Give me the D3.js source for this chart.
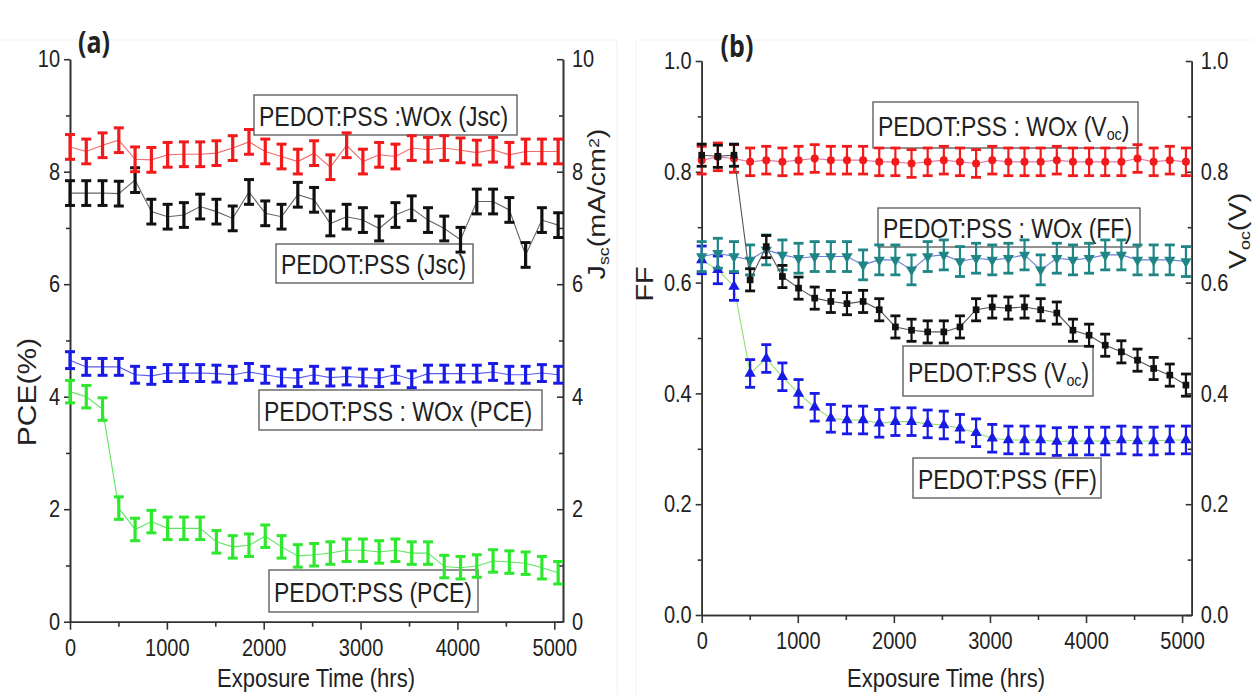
<!DOCTYPE html>
<html>
<head>
<meta charset="utf-8">
<script src="https://cdn.jsdelivr.net/npm/d3@7"></script>
<style>
  html, body { margin: 0; padding: 0; background: #fff; }
  svg { display: block; }
</style>
</head>
<body>
<svg id="chart" width="1253" height="695"></svg>
<script>
// Exposure time of each weekly measurement (hrs)
const hours = [0, 168, 336, 504, 672, 840, 1008, 1176, 1344, 1512, 1680, 1848, 2016, 2184, 2352,
               2520, 2688, 2856, 3024, 3192, 3360, 3528, 3696, 3864, 4032, 4200, 4368, 4536, 4704, 4872, 5040];

// (a) short-circuit current density (mA/cm2) and PCE (%)
const jscWOx = [8.44, 8.36, 8.47, 8.56, 8.22, 8.21, 8.30, 8.31, 8.31, 8.33, 8.42, 8.53, 8.36, 8.27, 8.18,
                8.33, 8.08, 8.47, 8.18, 8.30, 8.27, 8.42, 8.39, 8.42, 8.38, 8.34, 8.39, 8.30, 8.36, 8.36, 8.36];
const jscPss = [7.62, 7.62, 7.62, 7.61, 7.85, 7.29, 7.20, 7.23, 7.38, 7.29, 7.17, 7.64, 7.26, 7.20, 7.59,
                7.50, 7.08, 7.20, 7.14, 6.99, 7.23, 7.35, 7.14, 6.99, 6.79, 7.47, 7.47, 7.32, 6.52, 7.14, 7.05];
const pceWOx = [4.65, 4.53, 4.53, 4.53, 4.39, 4.37, 4.42, 4.42, 4.42, 4.41, 4.39, 4.44, 4.39, 4.34, 4.33,
                4.39, 4.34, 4.36, 4.34, 4.33, 4.39, 4.31, 4.41, 4.41, 4.41, 4.41, 4.44, 4.39, 4.39, 4.42, 4.39];
const pcePss = [4.09, 4.00, 3.78, 2.02, 1.64, 1.78, 1.66, 1.66, 1.66, 1.42, 1.33, 1.36, 1.52, 1.33, 1.17,
                1.19, 1.22, 1.27, 1.27, 1.24, 1.27, 1.22, 1.22, 0.98, 0.96, 0.99, 1.08, 1.06, 1.04, 0.96, 0.87];

// (b) open-circuit voltage (V) and fill factor
const vocWOx = [0.821, 0.827, 0.824, 0.818, 0.821, 0.818, 0.821, 0.824, 0.821, 0.821, 0.821, 0.818, 0.818, 0.815, 0.818,
                0.821, 0.818, 0.815, 0.821, 0.818, 0.818, 0.818, 0.821, 0.818, 0.818, 0.818, 0.818, 0.824, 0.818, 0.821, 0.818];
const vocPss = [0.830, 0.828, 0.830, 0.605, 0.665, 0.611, 0.590, 0.572, 0.566, 0.562, 0.566, 0.551, 0.520, 0.514, 0.511,
                0.511, 0.520, 0.551, 0.556, 0.554, 0.556, 0.551, 0.545, 0.514, 0.505, 0.487, 0.475, 0.460, 0.445, 0.433, 0.415];
const ffWOx  = [0.647, 0.653, 0.647, 0.641, 0.659, 0.650, 0.644, 0.647, 0.647, 0.647, 0.632, 0.641, 0.641, 0.623, 0.647,
                0.650, 0.638, 0.644, 0.641, 0.644, 0.650, 0.623, 0.644, 0.641, 0.644, 0.650, 0.650, 0.641, 0.641, 0.641, 0.638];
const ffPss  = [0.641, 0.623, 0.593, 0.436, 0.463, 0.430, 0.400, 0.375, 0.355, 0.352, 0.352, 0.346, 0.349, 0.349, 0.345,
                0.343, 0.337, 0.329, 0.319, 0.316, 0.316, 0.316, 0.313, 0.314, 0.314, 0.314, 0.316, 0.314, 0.314, 0.316, 0.316];

// Half-height of the error bars, one per series
const errJscWOx = 0.22, errJscPss = 0.22, errPceWOx = 0.15, errPcePss = 0.20;
const errVocWOx = 0.025, errVocPss = 0.02, errFfWOx = 0.027, errFfPss = 0.025;

// Tick values
const xMajor = [0, 1000, 2000, 3000, 4000, 5000];
const xMinor = [500, 1500, 2500, 3500, 4500];
const yMajorA = [0, 2, 4, 6, 8, 10];
const yMinorA = [1, 3, 5, 7, 9];
const yMajorB = [0, 0.2, 0.4, 0.6, 0.8, 1.0];
const yMinorB = [0.1, 0.3, 0.5, 0.7, 0.9];

const svg = d3.select("#chart");
const FONT = "'Liberation Sans', Arial, Helvetica, sans-serif";
const STRETCH = 1.2;      // glyphs in this figure are drawn tall
const AXIS_COLOR = "#333";
const TEXT_COLOR = "#222";

const panelA = {
  x: d3.scaleLinear().domain([0, 5090]).range([70, 563]),
  y: d3.scaleLinear().domain([0, 10]).range([621.7, 59.2])
};
const panelB = {
  x: d3.scaleLinear().domain([0, 5100]).range([701.7, 1191.7]),
  y: d3.scaleLinear().domain([0, 1]).range([615, 61])
};

// Text placed at (x, y) with the tall glyph stretch; parts = [{t, shift}] for sub/superscripts
function tallText(parent, x, y, parts, o) {
  const g = parent.append("g")
    .attr("transform", `translate(${x},${y}) scale(1,${STRETCH})` + (o.rotate ? ` rotate(${o.rotate})` : ""));
  const t = g.append("text")
    .attr("font-family", o.family || FONT)
    .attr("font-size", o.size)
    .attr("font-weight", o.weight || "normal")
    .attr("text-anchor", o.anchor || "middle")
    .attr("fill", TEXT_COLOR)
    .attr("dy", o.dy || "0.35em");
  parts.forEach(p => {
    const s = t.append("tspan").text(p.t);
    if (p.shift === "sub") s.attr("font-size", o.size * 0.62).attr("baseline-shift", "-28%");
    if (p.shift === "super") s.attr("font-size", o.size * 0.62).attr("baseline-shift", "42%");
  });
  return t;
}

function styleAxis(g, fontSize) {
  g.selectAll("path, line").attr("stroke", AXIS_COLOR).attr("stroke-width", 1.6);
  g.selectAll(".tick text").each(function () {
    const t = d3.select(this);
    const x = +t.attr("x") || 0, y = +t.attr("y") || 0;
    t.attr("x", 0).attr("y", 0)
      .attr("transform", `translate(${x},${y}) scale(1,${STRETCH})`)
      .attr("font-family", FONT).attr("font-size", fontSize).attr("fill", TEXT_COLOR);
  });
}

function drawAxes(p, yMajor, yMinor, fmt) {
  const [x0, x1] = p.x.range();
  const y0 = p.y.range()[0];
  const g = svg.append("g");
  // bottom
  styleAxis(g.append("g").attr("transform", `translate(0,${y0})`)
    .call(d3.axisBottom(p.x).tickValues(xMajor).tickSize(8).tickSizeOuter(0).tickPadding(9).tickFormat(d3.format("d"))), 20);
  styleAxis(g.append("g").attr("transform", `translate(0,${y0})`)
    .call(d3.axisBottom(p.x).tickValues(xMinor).tickSize(5).tickSizeOuter(0).tickFormat("")), 20);
  // left
  styleAxis(g.append("g").attr("transform", `translate(${x0},0)`)
    .call(d3.axisLeft(p.y).tickValues(yMajor).tickSize(6).tickSizeOuter(0).tickPadding(4).tickFormat(fmt)), 20);
  styleAxis(g.append("g").attr("transform", `translate(${x0},0)`)
    .call(d3.axisLeft(p.y).tickValues(yMinor).tickSize(4).tickSizeOuter(0).tickFormat("")), 20);
  // right (ticks point into the plot)
  styleAxis(g.append("g").attr("transform", `translate(${x1},0)`)
    .call(d3.axisRight(p.y).tickValues(yMajor).tickSizeInner(-6).tickSizeOuter(0).tickPadding(9).tickFormat(fmt)), 20);
  styleAxis(g.append("g").attr("transform", `translate(${x1},0)`)
    .call(d3.axisRight(p.y).tickValues(yMinor).tickSizeInner(-4).tickSizeOuter(0).tickFormat("")), 20);
}

function drawBox(x0, y0, x1, y1, parts, size) {
  svg.append("rect").attr("x", x0).attr("y", y0).attr("width", x1 - x0).attr("height", y1 - y0)
    .attr("fill", "#fff").attr("stroke", "#555").attr("stroke-width", 1.3);
  tallText(svg, x0 + 5, (y0 + y1) / 2 + 1, parts, { size: size, anchor: "start" });
}

function drawSeries(p, values, err, st) {
  const g = svg.append("g");
  const pts = hours.map((h, i) => [h, values[i]]);
  g.append("path").datum(pts)
    .attr("fill", "none").attr("stroke", st.line).attr("stroke-width", st.lineWidth || 1.1)
    .attr("d", d3.line().x(d => p.x(d[0])).y(d => p.y(d[1])));
  const bars = g.selectAll("g.bar").data(pts).join("g")
    .attr("class", "bar")
    .attr("transform", d => `translate(${p.x(d[0])},0)`);
  bars.append("line")
    .attr("x1", 0).attr("x2", 0)
    .attr("y1", d => p.y(d[1] - err)).attr("y2", d => p.y(d[1] + err))
    .attr("stroke", st.color).attr("stroke-width", st.stem);
  [-1, 1].forEach(s => {
    bars.append("line")
      .attr("x1", -st.cap / 2).attr("x2", st.cap / 2)
      .attr("y1", d => p.y(d[1] + s * err)).attr("y2", d => p.y(d[1] + s * err))
      .attr("stroke", st.color).attr("stroke-width", st.capWidth);
  });
  if (st.symbol) {
    bars.append("path")
      .attr("transform", d => `translate(0,${p.y(d[1])})` + (st.flip ? " rotate(180)" : ""))
      .attr("d", d3.symbol().type(st.symbol).size(st.symbolSize))
      .attr("fill", st.color);
  }
}

// faint edges of the two figure tiles
svg.append("path").attr("d", "M0,40H617V695").attr("fill", "none").attr("stroke", "#f1f1f1").attr("stroke-width", 1);
svg.append("path").attr("d", "M1253,40H636V695").attr("fill", "none").attr("stroke", "#f1f1f1").attr("stroke-width", 1);

drawAxes(panelA, yMajorA, yMinorA, d3.format("d"));
drawAxes(panelB, yMajorB, yMinorB, d3.format(".1f"));

// annotation boxes
const BOX_FONT = 23;
drawBox(254, 95, 517, 135, [{ t: "PEDOT:PSS :WOx (Jsc)" }], BOX_FONT);
drawBox(276, 244, 473, 283, [{ t: "PEDOT:PSS (Jsc)" }], BOX_FONT);
drawBox(259, 390, 542, 430, [{ t: "PEDOT:PSS : WOx (PCE)" }], BOX_FONT);
drawBox(269, 570, 478, 612, [{ t: "PEDOT:PSS (PCE)" }], BOX_FONT);
drawBox(873, 102, 1138, 148, [{ t: "PEDOT:PSS : WOx (V" }, { t: "oc", shift: "sub" }, { t: ")" }], BOX_FONT);
drawBox(878, 208, 1140, 247, [{ t: "PEDOT:PSS : WOx (FF)" }], BOX_FONT);
drawBox(903, 346, 1093, 396, [{ t: "PEDOT:PSS (V" }, { t: "oc", shift: "sub" }, { t: ")" }], BOX_FONT);
drawBox(913, 458, 1101, 498, [{ t: "PEDOT:PSS (FF)" }], BOX_FONT);

// (a) series
const barA = { stem: 3.2, cap: 10, capWidth: 3 };
drawSeries(panelA, jscPss, errJscPss, { ...barA, color: "#111", line: "#666" });
drawSeries(panelA, jscWOx, errJscWOx, { ...barA, color: "#f21a1a", line: "#f06a6a" });
drawSeries(panelA, pcePss, errPcePss, { ...barA, color: "#2ee82e", line: "#5fe65f" });
drawSeries(panelA, pceWOx, errPceWOx, { ...barA, color: "#1a1ae6", line: "#5a5af0" });

// (b) series
const barB = { stem: 2.2, cap: 10, capWidth: 2.8 };
drawSeries(panelB, vocWOx, errVocWOx, { ...barB, color: "#f21a1a", line: "#e07aa8", symbol: d3.symbolCircle, symbolSize: 50 });
drawSeries(panelB, ffPss, errFfPss, { ...barB, color: "#1a1ae6", line: "#8fe070", symbol: d3.symbolTriangle, symbolSize: 55 });
drawSeries(panelB, ffWOx, errFfWOx, { ...barB, color: "#1f8585", line: "#6a7ad8", symbol: d3.symbolTriangle, symbolSize: 55, flip: true });
drawSeries(panelB, vocPss, errVocPss, { ...barB, color: "#111", line: "#555", symbol: d3.symbolSquare, symbolSize: 45 });

// axis titles
tallText(svg, 316, 678, [{ t: "Exposure Time (hrs)" }], { size: 22 });
tallText(svg, 946, 678, [{ t: "Exposure Time (hrs)" }], { size: 22 });
tallText(svg, 27, 392, [{ t: "PCE(%)" }], { size: 25, rotate: -90 });
tallText(svg, 597, 204, [{ t: "J" }, { t: "sc", shift: "sub" }, { t: "(mA/cm" }, { t: "2", shift: "super" }, { t: ")" }], { size: 24, rotate: -90 });
tallText(svg, 645, 284, [{ t: "FF" }], { size: 24, rotate: -90 });
tallText(svg, 1238, 231, [{ t: "V" }, { t: "oc", shift: "sub" }, { t: "(V)" }], { size: 24, rotate: -90 });

// panel letters
tallText(svg, 94, 42, [{ t: "(a)" }], { size: 25, weight: "bold", family: "'Open Sans', 'Liberation Sans', sans-serif" });
tallText(svg, 737, 46, [{ t: "(b)" }], { size: 25, weight: "bold", family: "'Open Sans', 'Liberation Sans', sans-serif" });
</script>
</body>
</html>
